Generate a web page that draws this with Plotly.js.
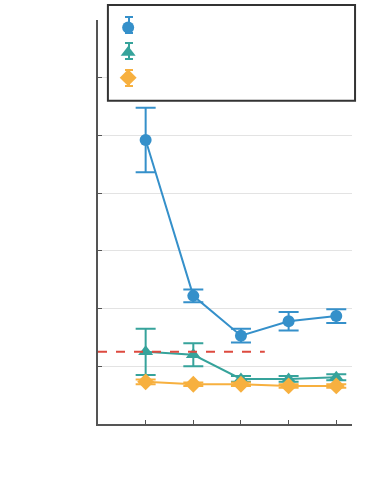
<!DOCTYPE html>
<html>
<head>
<meta charset="utf-8">
<script src="https://cdn.plot.ly/plotly-3.0.1.min.js"></script>
<style>
  html, body { margin: 0; padding: 0; background: #fff; }
  #chart { width: 374px; height: 499px; }
</style>
</head>
<body>
<div id="chart"></div>
<script>
const xs = [1, 2, 3, 4, 5]

const blueY = [4.92, 2.22, 1.53, 1.78, 1.87]
const blueErr = [0.56, 0.11, 0.12, 0.16, 0.12]

const tealY = [1.25, 1.20, 0.78, 0.78, 0.81]
const tealErr = [0.40, 0.20, 0.05, 0.05, 0.05]

const orangeY = [0.73, 0.69, 0.69, 0.66, 0.66]
const orangeErr = [0.04, 0.03, 0.03, 0.03, 0.03]

const refX = [0, 3.5]
const refY = [1.25, 1.25]

const blue = "#3590ca"
const teal = "#36a39b"
const orange = "#f7b03f"
const red = "#dd4a3f"

function series (y, err, color, symbol, size) {
    return {
        x: xs, y: y, mode: "lines+markers", type: "scatter",
        line: {color: color, width: 2},
        marker: {color: color, symbol: symbol, size: size},
        error_y: {type: "data", array: err, color: color, thickness: 2, width: 10},
        showlegend: false
    }
}

function legendOnly (color, symbol, size) {
    return {
        x: [null], y: [null], mode: "markers", type: "scatter", name: " ",
        marker: {color: color, symbol: symbol, size: size}
    }
}

let data = [
    series(blueY, blueErr, blue, "circle", 12),
    series(tealY, tealErr, teal, "triangle-up", 13),
    series(orangeY, orangeErr, orange, "diamond", 13),
    {
        x: refX, y: refY, mode: "lines", type: "scatter",
        line: {color: red, width: 2, dash: "dash"}, showlegend: false
    },
    legendOnly(blue, "circle", 12),
    legendOnly(teal, "triangle-up", 13),
    legendOnly(orange, "diamond", 13)
]

// little error bars drawn beside the legend symbols (pixel rows of the legend items)
const legendRows = [25, 51, 78]
const legendColors = [blue, teal, orange]
let legendBars = []
legendRows.forEach(function (py, i) {
    let x0 = 129 / 374
    let top = 1 - (py - 8) / 499
    let bot = 1 - (py + 8) / 499
    let half = 4 / 374
    let st = {color: legendColors[i], width: 2}
    legendBars.push({type: "line", xref: "paper", yref: "paper", x0: x0, x1: x0, y0: bot, y1: top, line: st})
    legendBars.push({type: "line", xref: "paper", yref: "paper", x0: x0 - half, x1: x0 + half, y0: top, y1: top, line: st})
    legendBars.push({type: "line", xref: "paper", yref: "paper", x0: x0 - half, x1: x0 + half, y0: bot, y1: bot, line: st})
})

let layout = {
    width: 374, height: 499,
    margin: {l: 98, r: 22, t: 20, b: 75, autoexpand: false},
    paper_bgcolor: "#fff", plot_bgcolor: "#fff",
    font: {family: "DejaVu Sans", size: 12},
    xaxis: {
        range: [0, 5.33], tickvals: xs, ticktext: ["", "", "", "", ""],
        showgrid: false, zeroline: false,
        showline: true, linecolor: "#555", linewidth: 1.5,
        ticks: "inside", ticklen: 4, tickcolor: "#555"
    },
    yaxis: {
        range: [0, 7], dtick: 1, showticklabels: false,
        showgrid: true, gridcolor: "#e3e3e3", gridwidth: 1, zeroline: false,
        showline: true, linecolor: "#555", linewidth: 1.5,
        ticks: "inside", ticklen: 4, tickcolor: "#555"
    },
    legend: {
        x: 0.04, y: 1.025, xanchor: "left", yanchor: "top",
        bgcolor: "rgba(0,0,0,0)", borderwidth: 0,
        font: {size: 17}, itemwidth: 30
    },
    shapes: [{
        type: "rect", xref: "paper", yref: "paper",
        x0: 0.039, x1: 1.012, y0: 0.80, y1: 1.037,
        line: {color: "#333", width: 2}, fillcolor: "#fff", layer: "above"
    }],
    showlegend: true
}

// the legend bars are in page fractions; convert to plot-paper fractions
legendBars.forEach(function (s) {
    s.x0 = (s.x0 * 374 - 98) / 254
    s.x1 = (s.x1 * 374 - 98) / 254
    s.y0 = (s.y0 * 499 - 75) / 404
    s.y1 = (s.y1 * 499 - 75) / 404
    s.layer = "above"
    layout.shapes.push(s)
})

Plotly.newPlot("chart", data, layout, {displayModeBar: false})
</script>
</body>
</html>
